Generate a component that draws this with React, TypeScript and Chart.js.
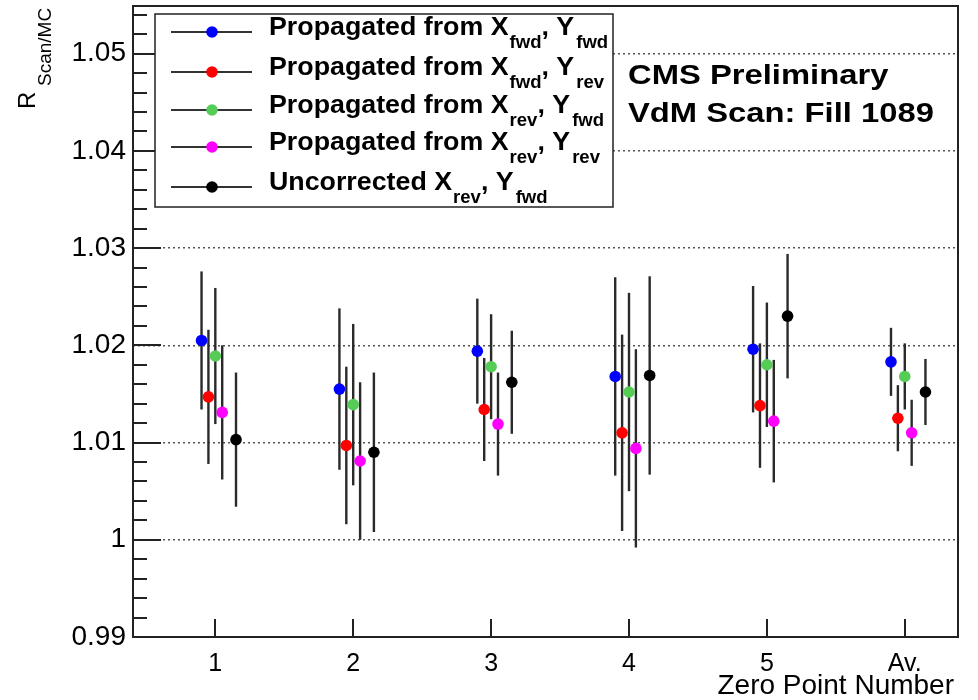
import React, { useEffect, useRef } from "react";
import { Chart, registerables } from "chart.js";

Chart.register(...registerables);

// ---- Data ----
const xTickValues = [1, 2, 3, 4, 5, 6];
const xTickLabels = ["1", "2", "3", "4", "5", "Av."];
const yMajorTicks = [0.99, 1.0, 1.01, 1.02, 1.03, 1.04, 1.05];

const seriesNames = [
  { prefix: "Propagated from ", xs: "fwd", ys: "fwd" },
  { prefix: "Propagated from ", xs: "fwd", ys: "rev" },
  { prefix: "Propagated from ", xs: "rev", ys: "fwd" },
  { prefix: "Propagated from ", xs: "rev", ys: "rev" },
  { prefix: "Uncorrected ", xs: "rev", ys: "fwd" },
];
const seriesColors = ["#0000ff", "#ff0000", "#55cc55", "#ff00ff", "#000000"];

const xFwdFwd = [0.9, 1.9, 2.9, 3.9, 4.9, 5.9];
const yFwdFwd = [1.0205, 1.0155, 1.0194, 1.0168, 1.0196, 1.0183];
const eFwdFwd = [0.0071, 0.0083, 0.0054, 0.0102, 0.0065, 0.0035];

const xFwdRev = [0.95, 1.95, 2.95, 3.95, 4.95, 5.95];
const yFwdRev = [1.0147, 1.0097, 1.0134, 1.011, 1.0138, 1.0125];
const eFwdRev = [0.0069, 0.0081, 0.0053, 0.0101, 0.0064, 0.0034];

const xRevFwd = [1.0, 2.0, 3.0, 4.0, 5.0, 6.0];
const yRevFwd = [1.0189, 1.0139, 1.0178, 1.0152, 1.018, 1.0168];
const eRevFwd = [0.007, 0.0083, 0.0054, 0.0102, 0.0064, 0.0034];

const xRevRev = [1.05, 2.05, 3.05, 4.05, 5.05, 6.05];
const yRevRev = [1.0131, 1.0081, 1.0119, 1.0094, 1.0122, 1.011];
const eRevRev = [0.0069, 0.0081, 0.0053, 0.0102, 0.0063, 0.0034];

const xUncorr = [1.15, 2.15, 3.15, 4.15, 5.15, 6.15];
const yUncorr = [1.0103, 1.009, 1.0162, 1.0169, 1.023, 1.0152];
const eUncorr = [0.0069, 0.0082, 0.0053, 0.0102, 0.0064, 0.0034];

const seriesX = [xFwdFwd, xFwdRev, xRevFwd, xRevRev, xUncorr];
const seriesY = [yFwdFwd, yFwdRev, yRevFwd, yRevRev, yUncorr];
const seriesE = [eFwdFwd, eFwdRev, eRevFwd, eRevRev, eUncorr];

const FONT = "'Liberation Sans', Arial, Helvetica, sans-serif";
const AXIS_COLOR = "#222";

function drawScaledText(ctx: CanvasRenderingContext2D, text: string, x: number, y: number, sx: number): number {
  const w = ctx.measureText(text).width;
  ctx.save();
  ctx.translate(x, y);
  ctx.scale(sx, 1);
  ctx.fillText(text, 0, 0);
  ctx.restore();
  return w * sx;
}

const rootPlugin = {
  id: "rootDecor",
  beforeDatasetsDraw(chart: any) {
    const ctx: CanvasRenderingContext2D = chart.ctx;
    const ys = chart.scales.y;
    ctx.save();
    ctx.strokeStyle = "#2a2a2a";
    ctx.lineWidth = 2.4;
    chart.data.datasets.forEach((ds: any, di: number) => {
      const meta = chart.getDatasetMeta(di);
      const errs = seriesE[di];
      meta.data.forEach((pt: any, i: number) => {
        const v = ds.data[i].y;
        const e = errs[i];
        ctx.beginPath();
        ctx.moveTo(pt.x, ys.getPixelForValue(v + e));
        ctx.lineTo(pt.x, ys.getPixelForValue(v - e));
        ctx.stroke();
      });
    });
    ctx.restore();
  },
  afterDraw(chart: any) {
    const ctx: CanvasRenderingContext2D = chart.ctx;
    const a = chart.chartArea;
    const ys = chart.scales.y;
    const xs = chart.scales.x;
    ctx.save();

    // inward tick marks on y axis (major + minor)
    ctx.strokeStyle = AXIS_COLOR;
    ctx.lineWidth = 2;
    const yMin = yMajorTicks[0];
    for (let k = 0; ; k++) {
      const v = yMin + k * 0.002;
      if (v > ys.max + 1e-9) break;
      const p = Math.round(ys.getPixelForValue(v));
      const major = k % 5 === 0;
      ctx.beginPath();
      ctx.moveTo(a.left, p);
      ctx.lineTo(a.left + (major ? 28 : 14), p);
      ctx.stroke();
    }
    // x axis tick marks
    xTickValues.forEach((v) => {
      const p = Math.round(xs.getPixelForValue(v));
      ctx.beginPath();
      ctx.moveTo(p, a.bottom);
      ctx.lineTo(p, a.bottom - 18);
      ctx.stroke();
    });

    // frame
    ctx.lineWidth = 2;
    ctx.strokeStyle = AXIS_COLOR;
    ctx.strokeRect(a.left, a.top, a.right - a.left, a.bottom - a.top);

    // legend box
    const lx = 155, ly = 14, lw = 458, lh = 193;
    ctx.fillStyle = "#fff";
    ctx.fillRect(lx, ly, lw, lh);
    ctx.lineWidth = 1.5;
    ctx.strokeStyle = "#222";
    ctx.strokeRect(lx, ly, lw, lh);

    const rowY = [32, 72, 110, 147, 187];
    seriesNames.forEach((s, i) => {
      const cy = rowY[i];
      ctx.strokeStyle = "#333";
      ctx.lineWidth = 2;
      ctx.beginPath();
      ctx.moveTo(171, cy);
      ctx.lineTo(252, cy);
      ctx.stroke();
      ctx.fillStyle = seriesColors[i];
      ctx.beginPath();
      ctx.arc(212, cy, 5.8, 0, Math.PI * 2);
      ctx.fill();

      const base = cy + 3;
      const sx = 1.03;
      ctx.fillStyle = "#000";
      ctx.textBaseline = "alphabetic";
      ctx.textAlign = "left";
      let x = 269;
      ctx.font = `bold 26px ${FONT}`;
      x += drawScaledText(ctx, s.prefix + "X", x, base, sx);
      ctx.font = `bold 18px ${FONT}`;
      x += 1 + drawScaledText(ctx, s.xs, x + 1, base + 13, sx);
      ctx.font = `bold 26px ${FONT}`;
      x += drawScaledText(ctx, ", Y", x, base, sx);
      ctx.font = `bold 18px ${FONT}`;
      drawScaledText(ctx, s.ys, x + 2, base + 13, sx);
    });

    // CMS labels
    ctx.fillStyle = "#000";
    ctx.font = `bold 28px ${FONT}`;
    ctx.textAlign = "left";
    ctx.textBaseline = "alphabetic";
    drawScaledText(ctx, "CMS Preliminary", 628, 84, 1.17);
    drawScaledText(ctx, "VdM Scan: Fill 1089", 628, 122, 1.17);

    // x axis title
    ctx.font = `28px ${FONT}`;
    ctx.textAlign = "right";
    ctx.fillText("Zero Point Number", 954, 694);

    // y axis title (rotated)
    ctx.save();
    ctx.translate(35, 109);
    ctx.rotate(-Math.PI / 2);
    ctx.textAlign = "left";
    ctx.font = `24px ${FONT}`;
    ctx.fillText("R", 0, 0);
    ctx.font = `19px ${FONT}`;
    ctx.fillText("Scan/MC", 23, 16);
    ctx.restore();

    ctx.restore();
  },
};

export default function App() {
  const canvasRef = useRef<HTMLCanvasElement | null>(null);

  useEffect(() => {
    if (!canvasRef.current) return;
    const datasets = seriesX.map((xsArr, si) => ({
      label: seriesNames[si].prefix,
      data: xsArr.map((x, i) => ({ x, y: seriesY[si][i] })),
      showLine: false,
      pointRadius: 5.8,
      pointHoverRadius: 5.8,
      pointBorderWidth: 0,
      pointBackgroundColor: seriesColors[si],
      pointBorderColor: seriesColors[si],
      backgroundColor: seriesColors[si],
      borderColor: seriesColors[si],
    }));

    const chart = new Chart(canvasRef.current, {
      type: "scatter",
      data: { datasets },
      options: {
        animation: false,
        responsive: false,
        maintainAspectRatio: false,
        devicePixelRatio: 1,
        layout: { padding: { left: 0, right: 20, top: 6, bottom: 0 } },
        plugins: { legend: { display: false }, tooltip: { enabled: false } },
        scales: {
          x: {
            type: "linear",
            min: 0.403,
            max: 6.386,
            afterFit: (s: any) => {
              s.height = 63;
              s.paddingLeft = 0;
              s.paddingRight = 0;
            },
            afterBuildTicks: (s: any) => {
              s.ticks = xTickValues.map((v) => ({ value: v }));
            },
            grid: { display: false, drawTicks: false },
            border: { display: false },
            ticks: {
              autoSkip: false,
              maxRotation: 0,
              padding: 12,
              color: "#000",
              font: { family: FONT, size: 25 },
              callback: (v: any) => {
                const idx = xTickValues.indexOf(Number(v));
                return idx >= 0 ? xTickLabels[idx] : "";
              },
            },
          },
          y: {
            type: "linear",
            min: 0.99,
            max: 1.0549,
            afterFit: (s: any) => {
              s.width = 133;
              s.paddingTop = 0;
              s.paddingBottom = 0;
            },
            afterBuildTicks: (s: any) => {
              s.ticks = yMajorTicks.map((v) => ({ value: v }));
            },
            grid: { color: "#555", lineWidth: 1.5, drawTicks: false },
            border: { display: false, dash: [2, 3] },
            ticks: {
              padding: 7,
              color: "#000",
              font: { family: FONT, size: 28 },
              callback: (v: any) => String(Number(Number(v).toFixed(2))),
            },
          },
        },
      },
      plugins: [rootPlugin],
    } as any);
    return () => chart.destroy();
  }, []);

  return (
    <div style={{ position: "absolute", left: 0, top: 0, width: 978, height: 700, background: "#fff" }}>
      <canvas ref={canvasRef} width={978} height={700} style={{ width: 978, height: 700, display: "block" }} />
    </div>
  );
}
